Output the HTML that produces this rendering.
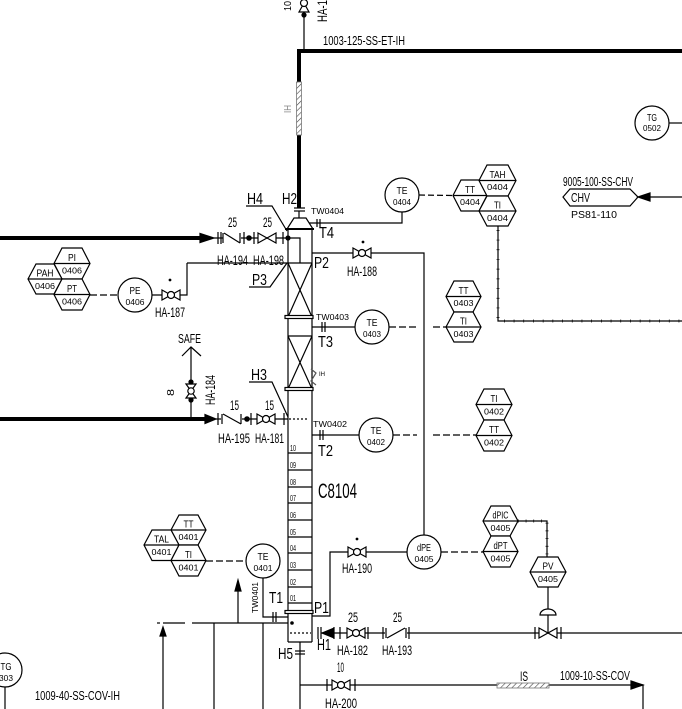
<!DOCTYPE html>
<html><head><meta charset="utf-8"><style>
html,body{margin:0;padding:0;background:#fff;}
svg{display:block;}
text{font-family:"Liberation Sans Narrow","Liberation Sans",sans-serif;fill:#000;stroke:none;}
.s{font-size:14px;}
.l{font-size:12.5px;}
.m{font-size:10px;}
.n{font-size:8.5px;}
.b{font-size:16px;}
</style></head><body>
<svg width="682" height="709" viewBox="0 0 682 709" xmlns="http://www.w3.org/2000/svg">
<defs>
<pattern id="hp" patternUnits="userSpaceOnUse" width="4" height="4" patternTransform="rotate(45)"><rect width="4" height="4" fill="#fff"/><line x1="0" y1="0" x2="0" y2="4" stroke="#444" stroke-width="1.2"/></pattern>
</defs>
<g fill="none" stroke="#000" stroke-width="1.2">
<path d="M682,51 L299,51 L299,208" stroke-width="4"/>
<rect x="296.5" y="82" width="5" height="53" fill="url(#hp)" stroke="#777" stroke-width="0.8"/>
<line x1="304" y1="15" x2="304" y2="51"/>
<path d="M299,12 L309,-6 L299,-6 L309,12 Z" fill="#fff"/>
<circle cx="304" cy="3" r="3.5" fill="#fff"/>
<circle cx="304" cy="15" r="2" fill="#000"/>
<line x1="294" y1="208" x2="305" y2="208"/>
<line x1="294" y1="211" x2="305" y2="211"/>
<line x1="299" y1="211" x2="299" y2="218"/>
<path d="M294,218 L306,218 L313,229 L287,229 Z" fill="#fff"/>
<line x1="285" y1="229" x2="314" y2="229" stroke-width="2"/>
<line x1="288" y1="229" x2="288" y2="642"/>
<line x1="312" y1="229" x2="312" y2="642"/>
<line x1="288" y1="642" x2="312" y2="642"/>
<path d="M288,238 L300,238 L300,263"/>
<circle cx="288" cy="238" r="2" fill="#000"/>
<line x1="187" y1="263" x2="312" y2="263"/>
<line x1="288" y1="263" x2="312" y2="317"/>
<line x1="312" y1="263" x2="288" y2="317"/>
<rect x="285" y="315.5" width="28" height="3" fill="#fff"/>
<line x1="288" y1="336" x2="312" y2="336"/>
<line x1="288" y1="336" x2="312" y2="389"/>
<line x1="312" y1="336" x2="288" y2="389"/>
<rect x="285" y="387.5" width="28" height="3" fill="#fff"/>
<line x1="289" y1="419" x2="307" y2="419" stroke-dasharray="2 2"/>
<line x1="288" y1="453" x2="312" y2="453"/>
<line x1="288" y1="470" x2="312" y2="470"/>
<line x1="288" y1="487" x2="312" y2="487"/>
<line x1="288" y1="503" x2="312" y2="503"/>
<line x1="288" y1="520" x2="312" y2="520"/>
<line x1="288" y1="537" x2="312" y2="537"/>
<line x1="288" y1="553" x2="312" y2="553"/>
<line x1="288" y1="570" x2="312" y2="570"/>
<line x1="288" y1="587" x2="312" y2="587"/>
<line x1="288" y1="603" x2="312" y2="603"/>
<rect x="285" y="610.5" width="28" height="3" fill="#fff"/>
<circle cx="292" cy="623" r="1.2" fill="#000"/>
<line x1="290" y1="633" x2="311" y2="633" stroke-dasharray="2 2"/>
<path d="M311,369 L316,373 L311,381 L316,385" stroke="#555"/>
<path d="M309,223 L402,223 L402,212"/>
<line x1="317" y1="219" x2="317" y2="227"/>
<line x1="320" y1="219" x2="320" y2="227"/>
<circle cx="402" cy="195" r="17" fill="#fff"/>
<line x1="419" y1="195" x2="453" y2="195.5" stroke-dasharray="6 3"/>
<path d="M312,253 L424,253 L424,535"/>
<path d="M353,248 L371,258 L371,248 L353,258 Z" fill="#fff"/>
<circle cx="362" cy="253" r="3.5" fill="#fff"/>
<circle cx="363" cy="242" r="0.8" fill="#000"/>
<line x1="312" y1="327" x2="355" y2="327"/>
<line x1="322" y1="322" x2="322" y2="332"/>
<line x1="325" y1="322" x2="325" y2="332"/>
<circle cx="372" cy="327" r="17" fill="#fff"/>
<line x1="389" y1="327" x2="417" y2="327" stroke-dasharray="7 3"/>
<line x1="433" y1="327" x2="446" y2="327" stroke-dasharray="7 3"/>
<line x1="312" y1="435" x2="359" y2="435"/>
<line x1="320" y1="430" x2="320" y2="440"/>
<line x1="323" y1="430" x2="323" y2="440"/>
<circle cx="376" cy="435" r="17" fill="#fff"/>
<line x1="393" y1="435" x2="417" y2="435" stroke-dasharray="7 3"/>
<line x1="433" y1="435" x2="476" y2="435" stroke-dasharray="7 3"/>
<path d="M312,616 L330,616 L330,552 L407,552"/>
<path d="M348,547 L366,557 L366,547 L348,557 Z" fill="#fff"/>
<circle cx="357" cy="552" r="3.5" fill="#fff"/>
<circle cx="357" cy="539" r="0.8" fill="#000"/>
<circle cx="424" cy="552" r="17" fill="#fff"/>
<line x1="441" y1="552" x2="483" y2="552" stroke-dasharray="7 3"/>
<path d="M518,521 L547,521 L547,557"/>
<path d="M518,521 L547,521 L547,557" stroke-width="3" stroke-dasharray="0.7 7"/>
<line x1="548" y1="587" x2="548" y2="633"/>
<path d="M540,615 A8,6 0 0 1 556,615 Z" fill="#fff"/>
<line x1="321" y1="633" x2="682" y2="633"/>
<line x1="318" y1="627" x2="318" y2="639"/>
<line x1="321" y1="627" x2="321" y2="639"/>
<path d="M322,633 L333,628.5 L333,637.5 Z" fill="#000"/>
<line x1="334" y1="627" x2="334" y2="639"/>
<line x1="340" y1="627" x2="340" y2="639"/>
<path d="M347,628 L365,638 L365,628 L347,638 Z" fill="#fff"/>
<circle cx="356" cy="633" r="3.5" fill="#fff"/>
<line x1="368" y1="627" x2="368" y2="639"/>
<line x1="383" y1="627" x2="383" y2="639"/>
<rect x="385" y="627" width="22" height="12" fill="#fff" stroke="none"/>
<path d="M386,628 L386,638 M387,638 L405,628 M406,628 L406,638"/>
<line x1="409" y1="627" x2="409" y2="639"/>
<line x1="535" y1="627" x2="535" y2="639"/>
<path d="M539,628 L557,638 L557,628 L539,638 Z" fill="#fff"/>
<line x1="561" y1="627" x2="561" y2="639"/>
<line x1="300" y1="642" x2="300" y2="709"/>
<line x1="295" y1="651" x2="305" y2="651"/>
<line x1="295" y1="654" x2="305" y2="654"/>
<path d="M300,685 L643,685 L643,709"/>
<line x1="327" y1="679" x2="327" y2="691"/>
<path d="M332,680 L350,690 L350,680 L332,690 Z" fill="#fff"/>
<circle cx="341" cy="685" r="3.5" fill="#fff"/>
<line x1="355" y1="679" x2="355" y2="691"/>
<path d="M643,685 L631,681 L631,689 Z" fill="#000"/>
<rect x="497" y="683" width="52" height="5" fill="url(#hp)" stroke="#777" stroke-width="0.8"/>
<line x1="0" y1="238" x2="203" y2="238" stroke-width="4"/>
<path d="M200,233.5 L214,238 L200,242.5 Z" fill="#000"/>
<line x1="214" y1="238" x2="288" y2="238"/>
<line x1="218" y1="232" x2="218" y2="244"/>
<line x1="221" y1="232" x2="221" y2="244"/>
<rect x="223" y="232" width="18" height="12" fill="#fff" stroke="none"/>
<path d="M223,233 L223,243 M224,233 L240,243 M240,233 L240,243"/>
<line x1="244" y1="232" x2="244" y2="244"/>
<circle cx="249" cy="238" r="2.2" fill="#000"/>
<line x1="254" y1="232" x2="254" y2="244"/>
<path d="M258,233 L276,243 L276,233 L258,243 Z" fill="#fff"/>
<line x1="283" y1="232" x2="283" y2="244"/>
<path d="M246,206 L272,206 L287,231"/>
<path d="M249,287 L270,287 L287,263"/>
<line x1="90" y1="295" x2="118" y2="295" stroke-dasharray="7 3"/>
<circle cx="135" cy="295" r="17" fill="#fff"/>
<path d="M152,295 L187,295 L187,263"/>
<path d="M162,290 L180,300 L180,290 L162,300 Z" fill="#fff"/>
<circle cx="171" cy="295" r="3.5" fill="#fff"/>
<circle cx="170" cy="280" r="0.8" fill="#000"/>
<polygon points="54,263.5 62,248 82,248 90,263.5 82,279 62,279" fill="#fff"/>
<line x1="54" y1="263.5" x2="90" y2="263.5"/>
<polygon points="28,279 36,264 54,264 62,279 54,294 36,294" fill="#fff"/>
<line x1="28" y1="279" x2="62" y2="279"/>
<polygon points="54,294.5 62,279 82,279 90,294.5 82,310 62,310" fill="#fff"/>
<line x1="54" y1="294.5" x2="90" y2="294.5"/>
<line x1="0" y1="419" x2="207" y2="419" stroke-width="4"/>
<path d="M205,414.5 L216,419 L205,423.5 Z" fill="#000"/>
<line x1="216" y1="419" x2="288" y2="419"/>
<line x1="218" y1="413" x2="218" y2="425"/>
<rect x="221" y="413" width="21" height="12" fill="#fff" stroke="none"/>
<path d="M222,414 L222,424 M223,414 L241,424 M241,414 L241,424"/>
<circle cx="247" cy="419" r="2.2" fill="#000"/>
<line x1="251" y1="413" x2="251" y2="425"/>
<path d="M257,414 L275,424 L275,414 L257,424 Z" fill="#fff"/>
<circle cx="266" cy="419" r="3.5" fill="#fff"/>
<line x1="284" y1="413" x2="284" y2="425"/>
<path d="M249,382 L272,382 L288,417"/>
<path d="M182,356 L191,347 L201,356"/>
<line x1="191" y1="347" x2="191" y2="419"/>
<path d="M186,384 L196,398 L186,398 L196,384 Z" fill="#fff"/>
<circle cx="191" cy="391" r="3.2" fill="#fff"/>
<circle cx="191" cy="382" r="2" fill="#000"/>
<circle cx="191" cy="400" r="2" fill="#000"/>
<polygon points="171,530 179,515 198,515 206,530 198,545 179,545" fill="#fff"/>
<line x1="171" y1="530" x2="206" y2="530"/>
<polygon points="144,545 152,530 171,530 179,545 171,560.5 152,560.5" fill="#fff"/>
<line x1="144" y1="545" x2="179" y2="545"/>
<polygon points="171,560.5 179,545 198,545 206,560.5 198,576 179,576" fill="#fff"/>
<line x1="171" y1="560.5" x2="206" y2="560.5"/>
<line x1="206" y1="561" x2="246" y2="561" stroke-dasharray="7 3"/>
<circle cx="263" cy="561" r="17" fill="#fff"/>
<path d="M263,578 L263,617 L288,617"/>
<line x1="273" y1="612" x2="273" y2="622"/>
<line x1="276" y1="612" x2="276" y2="622"/>
<line x1="238" y1="590" x2="238" y2="623"/>
<path d="M238,580 L235,591 L241,591 Z" fill="#000"/>
<line x1="157" y1="623" x2="160" y2="623"/>
<line x1="163" y1="623" x2="185" y2="623"/>
<line x1="192" y1="623" x2="288" y2="623"/>
<line x1="163" y1="634" x2="163" y2="709"/>
<path d="M163,627 L160,636 L166,636 Z" fill="#000"/>
<line x1="214" y1="623" x2="214" y2="709"/>
<line x1="263" y1="623" x2="263" y2="709"/>
<circle cx="5" cy="670" r="17" fill="#fff"/>
<line x1="5" y1="687" x2="5" y2="709"/>
<polygon points="453,195.5 461,180 479,180 487,195.5 479,211 461,211" fill="#fff"/>
<line x1="453" y1="195.5" x2="487" y2="195.5"/>
<polygon points="479,180.5 487,165 508,165 516,180.5 508,196 487,196" fill="#fff"/>
<line x1="479" y1="180.5" x2="516" y2="180.5"/>
<polygon points="479,211 487,196 508,196 516,211 508,226 487,226" fill="#fff"/>
<line x1="479" y1="211" x2="516" y2="211"/>
<path d="M498,226 L498,321 L682,321"/>
<path d="M498,230 L498,321 L682,321" stroke-width="3" stroke-dasharray="0.7 9"/>
<polygon points="446,296.5 454,281 473,281 481,296.5 473,312 454,312" fill="#fff"/>
<line x1="446" y1="296.5" x2="481" y2="296.5"/>
<polygon points="446,327 454,312 473,312 481,327 473,342 454,342" fill="#fff"/>
<line x1="446" y1="327" x2="481" y2="327"/>
<polygon points="476,404.5 484,389 504,389 512,404.5 504,420 484,420" fill="#fff"/>
<line x1="476" y1="404.5" x2="512" y2="404.5"/>
<polygon points="476,435.5 484,420 504,420 512,435.5 504,451 484,451" fill="#fff"/>
<line x1="476" y1="435.5" x2="512" y2="435.5"/>
<polygon points="483,521 491,506 510,506 518,521 510,536 491,536" fill="#fff"/>
<line x1="483" y1="521" x2="518" y2="521"/>
<polygon points="483,551.5 491,536 510,536 518,551.5 510,567 491,567" fill="#fff"/>
<line x1="483" y1="551.5" x2="518" y2="551.5"/>
<polygon points="530,572 538,557 558,557 566,572 558,587 538,587" fill="#fff"/>
<line x1="530" y1="572" x2="566" y2="572"/>
<polygon points="563,197 570,189 630,189 638,197 630,206 570,206" fill="#fff"/>
<path d="M638,197 L650,193 L650,201 Z" fill="#000"/>
<line x1="650" y1="197" x2="682" y2="197"/>
<circle cx="652" cy="123" r="17" fill="#fff"/>
<line x1="669" y1="123" x2="682" y2="123"/>
</g>

<text class="m" transform="translate(291,11) rotate(-90)" textLength="10" lengthAdjust="spacingAndGlyphs">10</text>
<text class="s" transform="translate(327,22) rotate(-90)" textLength="22" lengthAdjust="spacingAndGlyphs">HA-1</text>
<text class="m" transform="translate(291,113) rotate(-90)" style="fill:#888" textLength="8" lengthAdjust="spacingAndGlyphs">IH</text>
<text class="l" x="323" y="45" textLength="82" lengthAdjust="spacingAndGlyphs">1003-125-SS-ET-IH</text>
<text class="b" x="247" y="204" textLength="16" lengthAdjust="spacingAndGlyphs">H4</text>
<text class="b" x="282" y="204" textLength="15" lengthAdjust="spacingAndGlyphs">H2</text>
<text class="n" x="311" y="214" textLength="33" lengthAdjust="spacingAndGlyphs">TW0404</text>
<text class="b" x="319" y="238" textLength="15" lengthAdjust="spacingAndGlyphs">T4</text>
<text class="m" x="402" y="194" text-anchor="middle" textLength="11" lengthAdjust="spacingAndGlyphs">TE</text>
<text class="n" x="402" y="205" text-anchor="middle" textLength="18" lengthAdjust="spacingAndGlyphs">0404</text>
<text class="m" x="470" y="193" text-anchor="middle" textLength="10" lengthAdjust="spacingAndGlyphs">TT</text>
<text class="n" x="470" y="205" text-anchor="middle" textLength="20" lengthAdjust="spacingAndGlyphs">0404</text>
<text class="m" x="497.5" y="178" text-anchor="middle" textLength="16" lengthAdjust="spacingAndGlyphs">TAH</text>
<text class="n" x="497.5" y="190" text-anchor="middle" textLength="21" lengthAdjust="spacingAndGlyphs">0404</text>
<text class="m" x="497.5" y="208.5" text-anchor="middle" textLength="7" lengthAdjust="spacingAndGlyphs">TI</text>
<text class="n" x="497.5" y="221" text-anchor="middle" textLength="21" lengthAdjust="spacingAndGlyphs">0404</text>
<text class="l" x="563" y="186" textLength="70" lengthAdjust="spacingAndGlyphs">9005-100-SS-CHV</text>
<text class="l" x="571" y="202" textLength="19" lengthAdjust="spacingAndGlyphs">CHV</text>
<text class="m" x="571" y="218" textLength="46" lengthAdjust="spacingAndGlyphs">PS81-110</text>
<text class="m" x="652" y="121" text-anchor="middle" textLength="10" lengthAdjust="spacingAndGlyphs">TG</text>
<text class="n" x="652" y="131" text-anchor="middle" textLength="18" lengthAdjust="spacingAndGlyphs">0502</text>
<text class="s" x="228" y="227" textLength="9" lengthAdjust="spacingAndGlyphs">25</text>
<text class="s" x="263" y="227" textLength="9" lengthAdjust="spacingAndGlyphs">25</text>
<text class="s" x="217" y="265" textLength="31" lengthAdjust="spacingAndGlyphs">HA-194</text>
<text class="s" x="253" y="265" textLength="31" lengthAdjust="spacingAndGlyphs">HA-198</text>
<text class="b" x="252" y="285" textLength="15" lengthAdjust="spacingAndGlyphs">P3</text>
<text class="b" x="314" y="268" textLength="15" lengthAdjust="spacingAndGlyphs">P2</text>
<text class="s" x="347" y="276" textLength="30" lengthAdjust="spacingAndGlyphs">HA-188</text>
<text class="m" x="72" y="261" text-anchor="middle" textLength="8" lengthAdjust="spacingAndGlyphs">PI</text>
<text class="n" x="72" y="273.5" text-anchor="middle" textLength="20" lengthAdjust="spacingAndGlyphs">0406</text>
<text class="m" x="45" y="276.5" text-anchor="middle" textLength="17" lengthAdjust="spacingAndGlyphs">PAH</text>
<text class="n" x="45" y="289" text-anchor="middle" textLength="20" lengthAdjust="spacingAndGlyphs">0406</text>
<text class="m" x="72" y="292" text-anchor="middle" textLength="10" lengthAdjust="spacingAndGlyphs">PT</text>
<text class="n" x="72" y="304.5" text-anchor="middle" textLength="20" lengthAdjust="spacingAndGlyphs">0406</text>
<text class="m" x="135" y="294" text-anchor="middle" textLength="11" lengthAdjust="spacingAndGlyphs">PE</text>
<text class="n" x="135" y="305" text-anchor="middle" textLength="19" lengthAdjust="spacingAndGlyphs">0406</text>
<text class="s" x="155" y="317" textLength="30" lengthAdjust="spacingAndGlyphs">HA-187</text>
<text class="n" x="316" y="320" textLength="33" lengthAdjust="spacingAndGlyphs">TW0403</text>
<text class="b" x="318" y="347" textLength="15" lengthAdjust="spacingAndGlyphs">T3</text>
<text class="m" x="372" y="326" text-anchor="middle" textLength="11" lengthAdjust="spacingAndGlyphs">TE</text>
<text class="n" x="372" y="337" text-anchor="middle" textLength="18" lengthAdjust="spacingAndGlyphs">0403</text>
<text class="m" x="463.5" y="294" text-anchor="middle" textLength="10" lengthAdjust="spacingAndGlyphs">TT</text>
<text class="n" x="463.5" y="306" text-anchor="middle" textLength="20" lengthAdjust="spacingAndGlyphs">0403</text>
<text class="m" x="463.5" y="324.5" text-anchor="middle" textLength="7" lengthAdjust="spacingAndGlyphs">TI</text>
<text class="n" x="463.5" y="337" text-anchor="middle" textLength="20" lengthAdjust="spacingAndGlyphs">0403</text>
<text style="font-size:6px" x="319" y="376">IH</text>
<text class="l" x="178" y="343" textLength="23" lengthAdjust="spacingAndGlyphs">SAFE</text>
<text class="m" transform="translate(174,396) rotate(-90)" textLength="7" lengthAdjust="spacingAndGlyphs">8</text>
<text class="s" transform="translate(215,405) rotate(-90)" textLength="30" lengthAdjust="spacingAndGlyphs">HA-184</text>
<text class="b" x="251" y="380" textLength="16" lengthAdjust="spacingAndGlyphs">H3</text>
<text class="s" x="230" y="410" textLength="9" lengthAdjust="spacingAndGlyphs">15</text>
<text class="s" x="265" y="410" textLength="9" lengthAdjust="spacingAndGlyphs">15</text>
<text class="s" x="218" y="443" textLength="32" lengthAdjust="spacingAndGlyphs">HA-195</text>
<text class="s" x="255" y="443" textLength="29" lengthAdjust="spacingAndGlyphs">HA-181</text>
<text class="n" x="313" y="427" textLength="34" lengthAdjust="spacingAndGlyphs">TW0402</text>
<text class="b" x="318" y="456" textLength="15" lengthAdjust="spacingAndGlyphs">T2</text>
<text class="m" x="376" y="434" text-anchor="middle" textLength="11" lengthAdjust="spacingAndGlyphs">TE</text>
<text class="n" x="376" y="445" text-anchor="middle" textLength="18" lengthAdjust="spacingAndGlyphs">0402</text>
<text class="m" x="494" y="402" text-anchor="middle" textLength="7" lengthAdjust="spacingAndGlyphs">TI</text>
<text class="n" x="494" y="414.5" text-anchor="middle" textLength="20" lengthAdjust="spacingAndGlyphs">0402</text>
<text class="m" x="494" y="433" text-anchor="middle" textLength="10" lengthAdjust="spacingAndGlyphs">TT</text>
<text class="n" x="494" y="445.5" text-anchor="middle" textLength="20" lengthAdjust="spacingAndGlyphs">0402</text>
<g style="font-size:8.5px">
<text x="290" y="451" textLength="6" lengthAdjust="spacingAndGlyphs">10</text>
<text x="290" y="468" textLength="6" lengthAdjust="spacingAndGlyphs">09</text>
<text x="290" y="485" textLength="6" lengthAdjust="spacingAndGlyphs">08</text>
<text x="290" y="501" textLength="6" lengthAdjust="spacingAndGlyphs">07</text>
<text x="290" y="518" textLength="6" lengthAdjust="spacingAndGlyphs">06</text>
<text x="290" y="535" textLength="6" lengthAdjust="spacingAndGlyphs">05</text>
<text x="290" y="551" textLength="6" lengthAdjust="spacingAndGlyphs">04</text>
<text x="290" y="568" textLength="6" lengthAdjust="spacingAndGlyphs">03</text>
<text x="290" y="585" textLength="6" lengthAdjust="spacingAndGlyphs">02</text>
<text x="290" y="601" textLength="6" lengthAdjust="spacingAndGlyphs">01</text>
</g>
<text x="318" y="498" style="font-size:21px" textLength="39" lengthAdjust="spacingAndGlyphs">C8104</text>
<text class="m" x="188.5" y="527.5" text-anchor="middle" textLength="10" lengthAdjust="spacingAndGlyphs">TT</text>
<text class="n" x="188.5" y="540" text-anchor="middle" textLength="20" lengthAdjust="spacingAndGlyphs">0401</text>
<text class="m" x="161.5" y="542.5" text-anchor="middle" textLength="15" lengthAdjust="spacingAndGlyphs">TAL</text>
<text class="n" x="161.5" y="555" text-anchor="middle" textLength="20" lengthAdjust="spacingAndGlyphs">0401</text>
<text class="m" x="188.5" y="558" text-anchor="middle" textLength="7" lengthAdjust="spacingAndGlyphs">TI</text>
<text class="n" x="188.5" y="570.5" text-anchor="middle" textLength="20" lengthAdjust="spacingAndGlyphs">0401</text>
<text class="m" x="263" y="560" text-anchor="middle" textLength="11" lengthAdjust="spacingAndGlyphs">TE</text>
<text class="n" x="263" y="571" text-anchor="middle" textLength="19" lengthAdjust="spacingAndGlyphs">0401</text>
<text class="n" transform="translate(258,613) rotate(-90)" textLength="31" lengthAdjust="spacingAndGlyphs">TW0401</text>
<text class="b" x="269" y="603" textLength="14" lengthAdjust="spacingAndGlyphs">T1</text>
<text class="b" x="314" y="613" textLength="15" lengthAdjust="spacingAndGlyphs">P1</text>
<text class="m" x="424" y="551" text-anchor="middle" textLength="14" lengthAdjust="spacingAndGlyphs">dPE</text>
<text class="n" x="424" y="562" text-anchor="middle" textLength="19" lengthAdjust="spacingAndGlyphs">0405</text>
<text class="s" x="342" y="573" textLength="30" lengthAdjust="spacingAndGlyphs">HA-190</text>
<text class="m" x="500.5" y="518.5" text-anchor="middle" textLength="16" lengthAdjust="spacingAndGlyphs">dPIC</text>
<text class="n" x="500.5" y="531" text-anchor="middle" textLength="20" lengthAdjust="spacingAndGlyphs">0405</text>
<text class="m" x="500.5" y="549" text-anchor="middle" textLength="14" lengthAdjust="spacingAndGlyphs">dPT</text>
<text class="n" x="500.5" y="561.5" text-anchor="middle" textLength="20" lengthAdjust="spacingAndGlyphs">0405</text>
<text class="m" x="548" y="569.5" text-anchor="middle" textLength="11" lengthAdjust="spacingAndGlyphs">PV</text>
<text class="n" x="548" y="582" text-anchor="middle" textLength="20" lengthAdjust="spacingAndGlyphs">0405</text>
<text class="s" x="348" y="622" textLength="10" lengthAdjust="spacingAndGlyphs">25</text>
<text class="s" x="393" y="622" textLength="9" lengthAdjust="spacingAndGlyphs">25</text>
<text class="b" x="317" y="650" textLength="14" lengthAdjust="spacingAndGlyphs">H1</text>
<text class="s" x="337" y="655" textLength="31" lengthAdjust="spacingAndGlyphs">HA-182</text>
<text class="s" x="382" y="655" textLength="30" lengthAdjust="spacingAndGlyphs">HA-193</text>
<text class="b" x="278" y="659" textLength="15" lengthAdjust="spacingAndGlyphs">H5</text>
<text class="s" x="337" y="672" textLength="7" lengthAdjust="spacingAndGlyphs">10</text>
<text class="s" x="325" y="708" textLength="32" lengthAdjust="spacingAndGlyphs">HA-200</text>
<text class="s" x="520" y="681" textLength="8" lengthAdjust="spacingAndGlyphs">IS</text>
<text class="l" x="560" y="680" textLength="70" lengthAdjust="spacingAndGlyphs">1009-10-SS-COV</text>
<text class="l" x="35" y="700" textLength="85" lengthAdjust="spacingAndGlyphs">1009-40-SS-COV-IH</text>
<text class="m" x="6" y="670" text-anchor="middle" textLength="11" lengthAdjust="spacingAndGlyphs">TG</text>
<text class="n" x="6" y="681" text-anchor="middle" textLength="14" lengthAdjust="spacingAndGlyphs">303</text>
</svg>
</body></html>
